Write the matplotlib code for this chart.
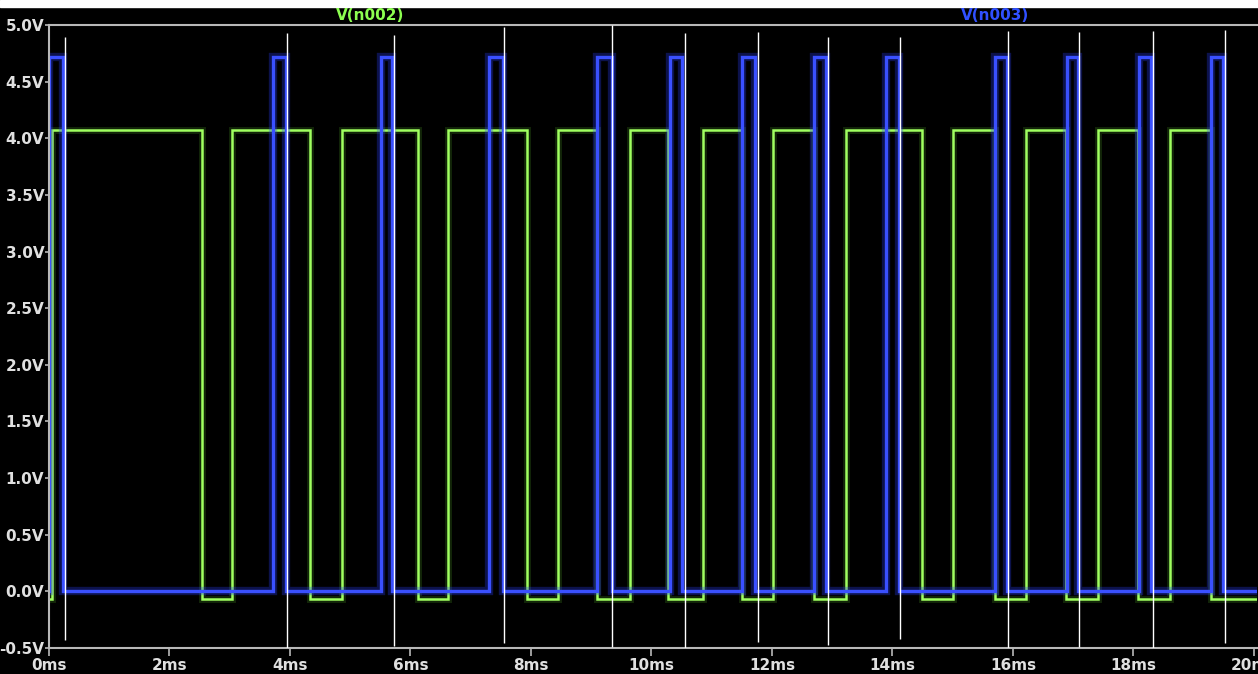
import matplotlib
matplotlib.use("Agg")
import matplotlib.pyplot as plt
import numpy as np
from matplotlib import font_manager
from matplotlib.patches import Rectangle

# edge times in ms
n003_rise = [0.0, 3.71, 5.51, 7.30, 9.10, 10.30, 11.51, 12.70, 13.90, 15.70, 16.90, 18.09, 19.29]
n003_fall = [0.23, 3.93, 5.70, 7.53, 9.34, 10.51, 11.71, 12.90, 14.10, 15.90, 17.08, 18.29, 19.49]
n003_hi, n003_lo = 4.72, 0.0

n002_rise = [0.05, 3.03, 4.86, 6.63, 8.44, 9.64, 10.85, 12.02, 13.23, 15.01, 16.22, 17.41, 18.61]
n002_fall = [2.54, 4.33, 6.12, 7.94, 9.10, 10.28, 11.51, 12.70, 14.49, 15.70, 16.88, 18.08, 19.29]
n002_hi, n002_lo = 4.07, -0.07

# white vertical marks: time, top, bottom (V)
mark_t = [0.27, 3.95, 5.72, 7.56, 9.35, 10.55, 11.76, 12.93, 14.13, 15.92, 17.10, 18.33, 19.52]
mark_top = [4.89, 4.93, 4.91, 4.98, 5.0, 4.93, 4.94, 4.89, 4.89, 4.95, 4.94, 4.95, 4.96]
mark_bot = [-0.43, -0.50, -0.48, -0.46, -0.49, -0.50, -0.45, -0.47, -0.42, -0.53, -0.49, -0.50, -0.46]

y_ticks = np.arange(-0.5, 5.01, 0.5)
x_ticks = np.arange(0, 21, 2)
t_end = 20.05


def square(rise, fall, hi, lo):
    t = [0.0]
    v = [lo]
    for r, f in zip(rise, fall):
        t += [r, r, f, f]
        v += [lo, hi, hi, lo]
    t.append(t_end)
    v.append(lo)
    return np.array(t), np.array(v)


fp = font_manager.FontProperties(family='DejaVu Sans', weight='bold', size=11)

fig = plt.figure(figsize=(12.58, 6.74), dpi=100, facecolor='black')
ax = fig.add_axes([49/1258, 1-648/674, (1257-49)/1258, (648-25)/674])
ax.set_facecolor('black')
fig.patches.append(Rectangle((0, 1-7/674), 1, 7/674, transform=fig.transFigure,
                             color='white', zorder=0))

t2, v2 = square(n002_rise, n002_fall, n002_hi, n002_lo)
t3, v3 = square(n003_rise, n003_fall, n003_hi, n003_lo)

ax.plot(t2, v2, color='#7cff3c', lw=5, alpha=0.15, solid_joinstyle='miter')
ax.plot(t2, v2, color='#a0ff60', lw=1.8, solid_joinstyle='miter')
ax.plot(t3, v3, color='#2a3cff', lw=6, alpha=0.3, solid_joinstyle='miter')
ax.plot(t3, v3, color='#3a50ff', lw=2.4, solid_joinstyle='miter')
ax.vlines(mark_t, mark_bot, mark_top, color='white', lw=1.0, zorder=5)

ax.set_xlim(0, t_end)
ax.set_ylim(-0.5, 5.0)
ax.set_yticks(y_ticks)
ax.set_yticklabels(['%.1fV' % y for y in y_ticks])
ax.set_xticks(x_ticks)
ax.set_xticklabels(['%dms' % x for x in x_ticks])

for s in ['left', 'bottom', 'top']:
    ax.spines[s].set_color('#b8b8b8')
    ax.spines[s].set_linewidth(1.5)
ax.spines['right'].set_visible(False)
ax.tick_params(axis='y', colors='#b8b8b8', length=3, width=1.2, pad=0.5)
ax.tick_params(axis='x', colors='#b8b8b8', length=6, width=1.2, pad=1)
for lab in ax.get_xticklabels() + ax.get_yticklabels():
    lab.set_fontproperties(fp)
    lab.set_color('#e0e0e0')

fig.text(370/1258, 1-15/674, 'V(n002)', color='#8cff50', fontproperties=fp,
         ha='center', va='center')
fig.text(995/1258, 1-15/674, 'V(n003)', color='#3050ff', fontproperties=fp,
         ha='center', va='center')

fig.savefig('out.png', dpi=100, facecolor='black')
